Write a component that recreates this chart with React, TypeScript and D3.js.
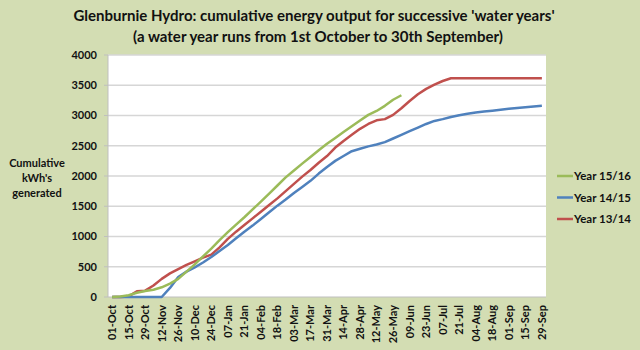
import React from "react";
import * as d3 from "d3";

const tickLabels = [
  "01-Oct", "15-Oct", "29-Oct", "12-Nov", "26-Nov", "10-Dec", "24-Dec",
  "07-Jan", "21-Jan", "04-Feb", "18-Feb", "03-Mar", "17-Mar", "31-Mar",
  "14-Apr", "28-Apr", "12-May", "26-May", "09-Jun", "23-Jun", "07-Jul",
  "21-Jul", "04-Aug", "18-Aug", "01-Sep", "15-Sep", "29-Sep",
];
const weekCount = 53;

const year1516 = [
  0, 10, 30, 70, 100, 120, 160, 220, 300, 420, 540, 670, 800, 940, 1071, 1197,
  1318, 1447, 1577, 1710, 1843, 1977, 2092, 2204, 2315, 2427, 2534, 2629, 2726,
  2821, 2917, 3010, 3075, 3160, 3260, 3335,
];
const year1415 = [
  0, 0, 0, 0, 0, 0, 0, 150, 330, 420, 490, 570, 660, 760, 860, 970, 1080, 1180,
  1290, 1400, 1510, 1610, 1720, 1820, 1920, 2040, 2150, 2250, 2330, 2410, 2450,
  2490, 2520, 2560, 2620, 2680, 2740, 2800, 2860, 2910, 2940, 2975, 3005, 3030,
  3050, 3065, 3080, 3095, 3110, 3122, 3135, 3148, 3160,
];
const year1314 = [
  0, 0, 10, 95, 105, 190, 300, 390, 460, 530, 590, 650, 700, 820, 960, 1080,
  1190, 1300, 1410, 1520, 1630, 1750, 1870, 1990, 2100, 2220, 2330, 2470, 2580,
  2680, 2780, 2860, 2920, 2940, 3010, 3120, 3240, 3350, 3440, 3510, 3570, 3615,
  3615, 3615, 3615, 3615, 3615, 3615, 3615, 3615, 3615, 3615, 3615,
];
const yTicks = [0, 500, 1000, 1500, 2000, 2500, 3000, 3500, 4000];
const seriesNames = ["Year 15/16", "Year 14/15", "Year 13/14"];
const seriesColors = ["#9bbb59", "#4f81bd", "#c0504d"];
const seriesData = [year1516, year1415, year1314];

const W = 640;
const H = 350;
const plot = { left: 108, right: 546, top: 55, bottom: 297 };
const FONT = "Lato, 'Open Sans', sans-serif";

export default function App() {
  const idx = d3.range(weekCount);
  const x = d3
    .scalePoint<number>()
    .domain(idx)
    .range([plot.left, plot.right])
    .padding(0.5);
  const y = d3.scaleLinear().domain([0, 4000]).range([plot.bottom, plot.top]);
  const line = d3
    .line<number>()
    .x((_, i) => x(i) as number)
    .y((v) => y(v));

  return (
    <svg
      width={W}
      height={H}
      style={{ position: "fixed", left: 0, top: 0 }}
      fontFamily={FONT}
    >
      <rect width={W} height={H} fill="#d3ddb3" />
      <text x={314} y={21} textAnchor="middle" fontSize={15} fontWeight="bold" fill="#111">
        Glenburnie Hydro: cumulative energy output for successive 'water years'
      </text>
      <text x={318} y={42} textAnchor="middle" fontSize={15} fontWeight="bold" fill="#111">
        (a water year runs from 1st October to 30th September)
      </text>
      <rect
        x={plot.left}
        y={plot.top}
        width={plot.right - plot.left}
        height={plot.bottom - plot.top}
        fill="#ffffff"
      />
      {yTicks.map((t) => (
        <g key={t}>
          {t > 0 && (
            <line
              x1={plot.left}
              x2={plot.right}
              y1={y(t)}
              y2={y(t)}
              stroke="#d6d6d6"
              strokeWidth={1.5}
            />
          )}
          <line x1={plot.left - 4} x2={plot.left} y1={y(t)} y2={y(t)} stroke="#bfbfbf" />
          <text
            x={97}
            y={y(t)}
            dy="0.35em"
            textAnchor="end"
            fontSize={11}
            fontWeight="bold"
            fill="#111"
          >
            {t}
          </text>
        </g>
      ))}
      <line x1={plot.left} x2={plot.left} y1={plot.top} y2={plot.bottom} stroke="#bfbfbf" />
      <line x1={plot.left} x2={plot.right} y1={plot.bottom} y2={plot.bottom} stroke="#bfbfbf" />
      {idx
        .filter((i) => i % 2 === 0)
        .map((i) => (
          <text
            key={i}
            transform={`translate(${x(i)},305) rotate(-90)`}
            dy="0.35em"
            textAnchor="end"
            fontSize={11}
            fontWeight="bold"
            fill="#111"
          >
            {tickLabels[i / 2]}
          </text>
        ))}
      {[2, 1, 0].map((s) => (
        <path
          key={s}
          d={line(seriesData[s]) || ""}
          fill="none"
          stroke={seriesColors[s]}
          strokeWidth={2.5}
          strokeLinejoin="round"
        />
      ))}
      <g fontSize={11} fontWeight="bold" fill="#111" textAnchor="middle">
        <text x={37} y={167}>Cumulative</text>
        <text x={37} y={182}>kWh's</text>
        <text x={37} y={197}>generated</text>
      </g>
      {seriesNames.map((n, i) => (
        <g key={n} transform={`translate(557,${176 + i * 21.5})`}>
          <line x1={0} x2={16} y1={0} y2={0} stroke={seriesColors[i]} strokeWidth={2.5} />
          <text x={17} y={0} dy="0.35em" fontSize={11.5} fontWeight="bold" fill="#111">
            {n}
          </text>
        </g>
      ))}
    </svg>
  );
}
